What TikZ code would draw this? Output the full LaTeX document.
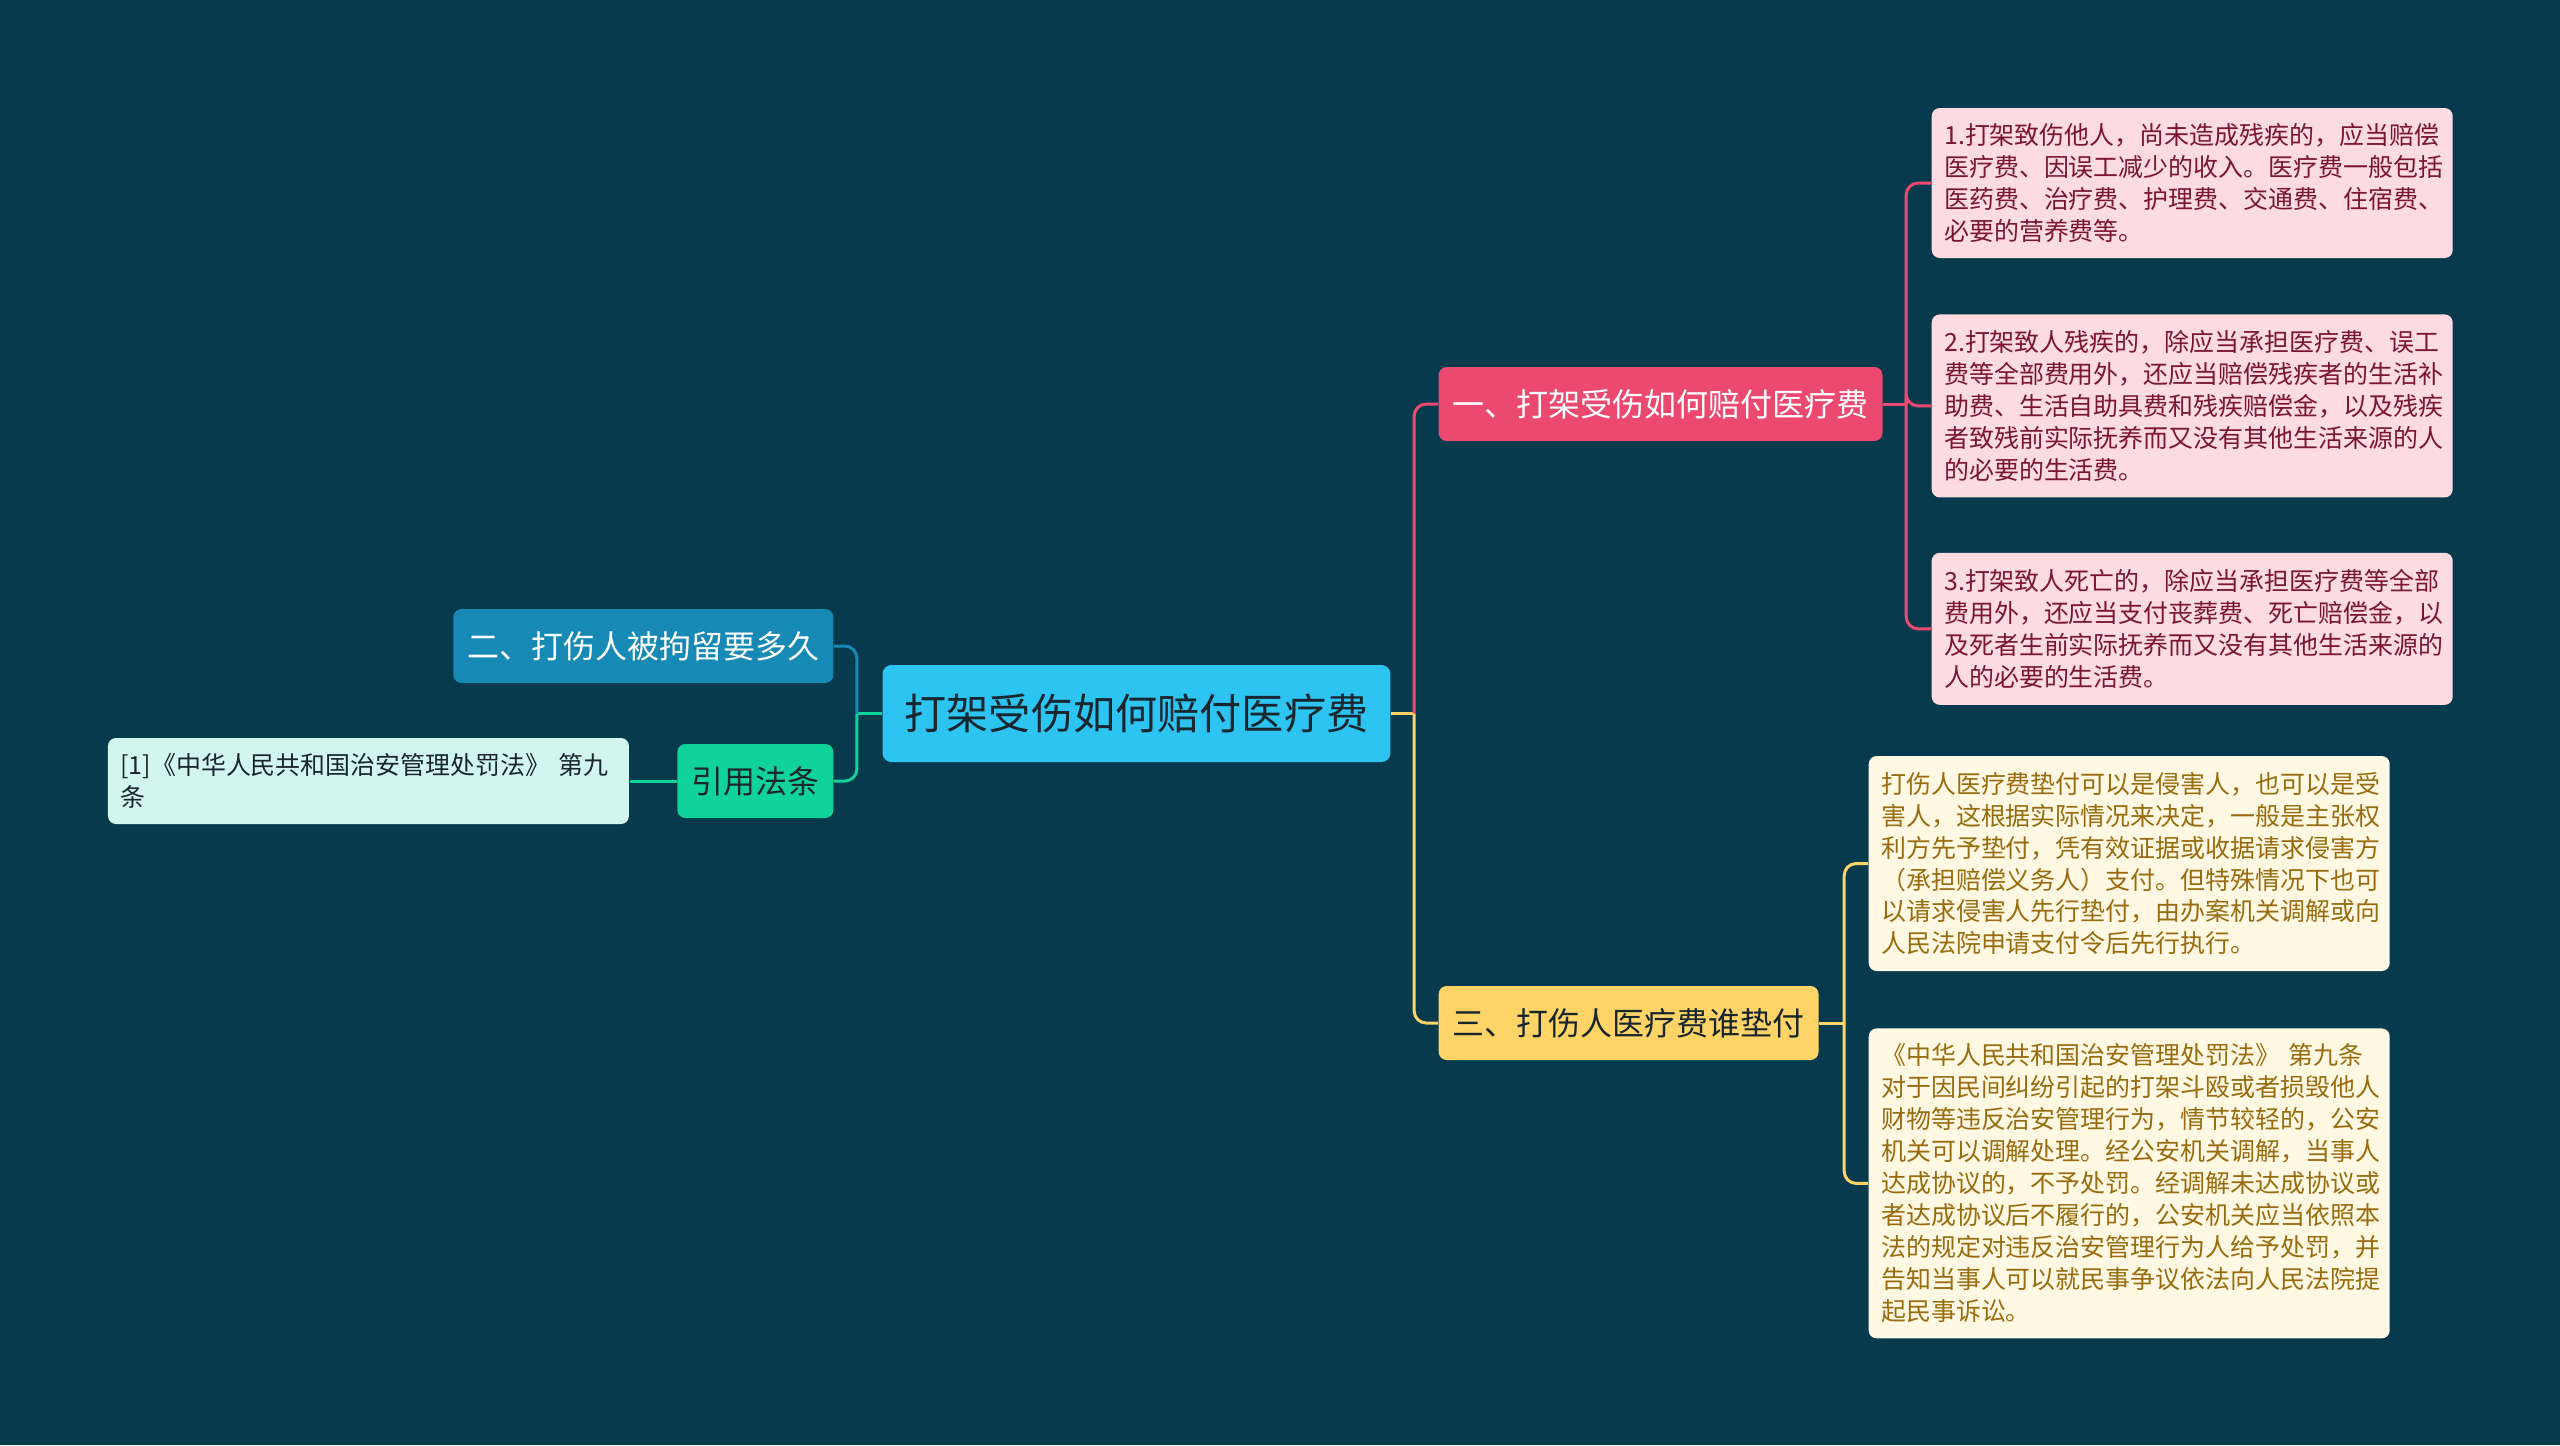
\documentclass[tikz,border=0pt]{standalone}
\usepackage{fontspec}
\usepackage{tikz}
\usetikzlibrary{positioning}
\newfontfamily\cjkfont{Noto Sans CJK SC}
\definecolor{bgBase}{RGB}{7,58,77}
\definecolor{rootFill}{RGB}{46,196,242}
\definecolor{inkDark}{RGB}{24,38,46}
\definecolor{topicA}{RGB}{236,73,112}
\definecolor{topicB}{RGB}{22,137,181}
\definecolor{topicC}{RGB}{255,212,102}
\definecolor{topicD}{RGB}{16,211,154}
\definecolor{noteA}{RGB}{252,219,227}
\definecolor{noteAink}{RGB}{122,22,48}
\definecolor{noteC}{RGB}{255,248,227}
\definecolor{noteCink}{RGB}{152,108,14}
\definecolor{noteD}{RGB}{210,246,237}

\begin{document}
\begin{tikzpicture}[every node/.style={font=\cjkfont},
  mainbox/.style={rounded corners=0.9mm, fill=rootFill, text=inkDark, inner xsep=2.2mm, minimum height=9.7mm, font=\cjkfont\fontsize{12}{14}\selectfont},
  subbox/.style={rounded corners=0.8mm, fill=#1, inner xsep=1.4mm, minimum height=7.4mm, font=\cjkfont\fontsize{9.1}{11}\selectfont},
  notebox/.style={rounded corners=0.8mm, fill=#1, inner xsep=1.25mm, text width=4.96cm, align=left, font=\cjkfont\fontsize{7.1}{9.1}\selectfont},
  link/.style={line width=0.3mm, rounded corners=1.2mm, draw=#1}]
  \fill[bgBase] (0,0) rectangle (25.6,-14.45);
  % ---------------- ROOT ----------------
  \node[mainbox] (root) at (11.365,-7.135) {打架受伤如何赔付医疗费};
  \path (root.east) ++(0.23,0) coordinate (rj);
  \path (root.west) ++(-0.25,0) coordinate (lj);
  % ---------------- RIGHT ----------------
  \node[subbox=topicA, text=white, anchor=west] (tA) at (14.38,-4.04) {一、打架受伤如何赔付医疗费};
  \node[subbox=topicC, text=inkDark, anchor=west] (tC) at (14.38,-10.23) {三、打伤人医疗费谁垫付};
  \node[notebox=noteA, text=noteAink, minimum height=1.5cm, anchor=west] (nA1) at (19.31,-1.83)
    {1.打架致伤他人，尚未造成残疾的，应当赔偿\\医疗费、因误工减少的收入。医疗费一般包括\\医药费、治疗费、护理费、交通费、住宿费、\\必要的营养费等。};
  \node[notebox=noteA, text=noteAink, minimum height=1.83cm, below=0.55cm of nA1] (nA2)
    {2.打架致人残疾的，除应当承担医疗费、误工\\费等全部费用外，还应当赔偿残疾者的生活补\\助费、生活自助具费和残疾赔偿金，以及残疾\\者致残前实际抚养而又没有其他生活来源的人\\的必要的生活费。};
  \node[notebox=noteA, text=noteAink, minimum height=1.52cm, below=0.54cm of nA2] (nA3)
    {3.打架致人死亡的，除应当承担医疗费等全部\\费用外，还应当支付丧葬费、死亡赔偿金，以\\及死者生前实际抚养而又没有其他生活来源的\\人的必要的生活费。};
  \node[notebox=noteC, text=noteCink, minimum height=2.15cm, anchor=west] (nC1) at (18.68,-8.635)
    {打伤人医疗费垫付可以是侵害人，也可以是受\\害人，这根据实际情况来决定，一般是主张权\\利方先予垫付，凭有效证据或收据请求侵害方\\（承担赔偿义务人）支付。但特殊情况下也可\\以请求侵害人先行垫付，由办案机关调解或向\\人民法院申请支付令后先行执行。};
  \node[notebox=noteC, text=noteCink, minimum height=3.1cm, below=0.56cm of nC1] (nC2)
    {《中华人民共和国治安管理处罚法》 第九条\\对于因民间纠纷引起的打架斗殴或者损毁他人\\财物等违反治安管理行为，情节较轻的，公安\\机关可以调解处理。经公安机关调解，当事人\\达成协议的，不予处罚。经调解未达成协议或\\者达成协议后不履行的，公安机关应当依照本\\法的规定对违反治安管理行为人给予处罚，并\\告知当事人可以就民事争议依法向人民法院提\\起民事诉讼。};
  % ---------------- LEFT ----------------
  \node[subbox=topicB, text=white, anchor=east] (tB) at (8.34,-6.46) {二、打伤人被拘留要多久};
  \node[subbox=topicD, text=inkDark, anchor=east] (tD) at (8.34,-7.81) {引用法条};
  \node[notebox=noteD, text=inkDark, minimum height=0.86cm, left=0.47cm of tD] (nD)
    {[1]《中华人民共和国治安管理处罚法》 第九\\条};
  % ---------------- LINKS ----------------
  \draw[link=topicC] (root.east) -- (rj);
  \draw[link=topicA] (rj) |- (tA.west);
  \draw[link=topicC] (rj) |- (tC.west);
  \draw[link=topicD] (root.west) -- (lj);
  \draw[link=topicB] (lj) |- (tB.east);
  \draw[link=topicD] (lj) |- (tD.east);
  \draw[link=topicD] (tD.west) -- (nD.east);
  \path (tA.east) ++(0.23,0) coordinate (aj);
  \draw[link=topicA] (tA.east) -- (aj);
  \draw[link=topicA] (aj) |- (nA1.west);
  \draw[link=topicA] (aj) |- (nA2.west);
  \draw[link=topicA] (aj) |- (nA3.west);
  \path (tC.east) ++(0.25,0) coordinate (cj);
  \draw[link=topicC] (tC.east) -- (cj);
  \draw[link=topicC] (cj) |- (nC1.west);
  \draw[link=topicC] (cj) |- (nC2.west);
\end{tikzpicture}
\end{document}
